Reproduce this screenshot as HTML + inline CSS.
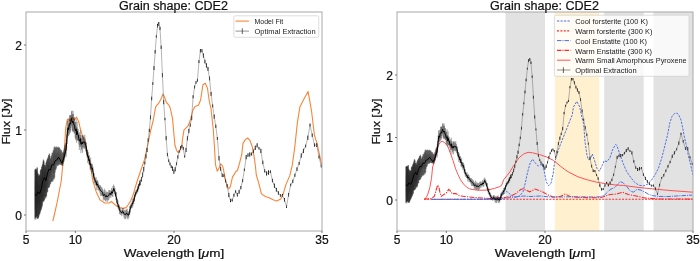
<!DOCTYPE html>
<html><head><meta charset="utf-8"><title>Grain shape: CDE2</title>
<style>html,body{margin:0;padding:0;background:#fff;}body{width:700px;height:261px;overflow:hidden;position:relative;font-family:"Liberation Sans",sans-serif;}</style>
</head><body>
<svg width="700" height="261" viewBox="0 0 700 261" style="position:absolute;left:0;top:0;will-change:transform;filter:blur(0.3px)">
<defs><clipPath id="cl"><rect x="26" y="12" width="296" height="219"/></clipPath><clipPath id="cr"><rect x="397" y="12" width="296" height="219"/></clipPath></defs>
<rect x="505.53" y="12" width="39.47" height="219" fill="#e2e2e2"/>
<rect x="554.87" y="12" width="44.4" height="219" fill="#fff0d0"/>
<rect x="604.2" y="12" width="39.47" height="219" fill="#e2e2e2"/>
<rect x="653.53" y="12" width="39.47" height="219" fill="#e2e2e2"/>
<path d="M52.8 221.2 L55 212 L57.6 200 L59.5 190 L61.4 180 L63 162 L64.5 147.7 L65.7 128 L67.3 119.6 L68.5 118.8 L70.3 121.1 L72.2 117.3 L74.2 120.3 L76.5 117 L78.8 121.9 L80.1 128 L82.4 135.7 L84.7 141.8 L86.3 147.9 L87.8 154.8 L89.3 161.7 L90.9 168 L92.6 179.9 L96.1 191.4 L100 199.9 L104.6 203 L109.2 203 L111.5 201.5 L113.8 203.8 L116.9 206.1 L119.9 207.6 L123 208.4 L126.1 207.6 L128.4 204.5 L130.7 200.7 L133 195.3 L135.2 187.7 L137.5 180 L139.2 175 L141.8 167.5 L144.4 160 L147.6 145.3 L150.7 130.5 L153.3 120 L155.6 107.1 L156.6 105.5 L158.4 103.7 L161 99 L163 94 L164.5 97 L166.4 102.5 L168.7 104.8 L170.2 108 L171 111.7 L172.5 118.4 L174.9 145 L176.7 150.7 L178.4 152.8 L180.1 150.2 L181.8 146.7 L182.4 140 L184 129.9 L186.3 127.6 L188 126 L190.3 120.3 L192.6 111.1 L195 106.5 L198.4 105.3 L200.6 100 L202.9 84.8 L205.2 83.2 L207.5 88.3 L209.1 100 L211 108.8 L213.3 129.5 L214.2 143.3 L215.5 164.7 L217.2 171.1 L218.7 168.9 L220.8 163.7 L222.9 166.8 L225 177.4 L227.1 185.8 L228.6 188.9 L230.3 186.8 L232.4 177.4 L235.5 172.1 L237.6 170 L239.7 162.6 L241.8 154.2 L243 143.4 L245.3 139.6 L247.6 138 L249.9 140.3 L252.2 146.5 L253.8 154.9 L255.3 165 L256.3 175 L258.9 183.6 L261.4 193.9 L265.3 196.5 L269.1 197.8 L273 199.8 L276.8 201.1 L280.7 199 L283.2 193.9 L285.8 184.9 L289.7 175.9 L292.2 165.7 L294.8 147 L297.4 122.4 L299.9 107 L303.8 99.2 L308.1 91.5 L311.5 110.8 L314.5 135.7 L316.8 142.6 L319.1 152.9 L321.4 163.3 L322 165" stroke="#f7853a" stroke-width="1.1" fill="none" stroke-linejoin="round" clip-path="url(#cl)"/>
<path d="M34.88 169.83V219.38M35.19 168.8V217.79M35.49 168.74V217.91M35.8 170.28V219.71M36.12 169.86V216.46M36.43 168.64V217.15M36.74 169.82V217.99M37.06 167.41V215.94M37.38 167.62V218.92M37.7 172.35V218.57M38.02 173.77V217.75M38.34 173.81V218.84M38.66 176.12V217.11M38.99 175.35V216.33M39.32 175.66V214.61M39.65 174.44V214.12M39.98 174.52V213.81M40.31 170.94V212.2M40.65 169.5V210.95M40.99 169.78V209.16M41.32 168.99V209.97M41.66 166.67V207.86M42.01 166.5V205.04M42.35 164.81V206.69M42.7 163.69V201.87M43.04 161.36V202.52M43.39 159.4V201.17M43.74 160.21V201.48M44.1 161.41V200.31" stroke="#000" stroke-opacity="0.58" stroke-width="0.8" fill="none" clip-path="url(#cl)"/>
<path d="M34.88 179.76V210.85M35.19 182.4V206.89M35.49 185.99V203.34M35.8 186.19V204.81M36.12 185.38V203.62M36.43 175.72V212.61M36.74 175.83V213.09M37.06 181.83V204.43M37.38 181.55V205.88M37.7 180.64V208.21M38.02 181.29V206.86M38.34 184.3V203.58M38.66 184.52V204.06M38.99 184.47V203.74M39.32 185.29V202.64M39.65 179.3V208.19M39.98 178.22V208.68M40.31 177.62V205.47M40.65 182.93V197.58M40.99 177.59V200.93M41.32 175.49V202.02M41.66 176.01V198.26M42.01 175.31V196.44M42.35 171.73V198.96M42.7 169.88V196.77M43.04 169.29V195.45M43.39 172.42V189.6M43.74 166.86V194.93M44.1 170.79V190.67M44.45 171.89V190.97M44.81 169.13V192.02M45.17 172.91V189.56M45.53 167.96V192.12M45.89 172.02V187.44M46.25 168.23V188.88M46.62 168.42V187.12M46.99 163.41V189.14M47.36 165.29V185.45M47.73 161.91V187.07M48.11 162.14V183.49M48.48 165.5V178.02M48.86 165.13V177.24M49.24 161.63V178.16M49.62 162.89V176.04M50.01 163.82V174.04M50.39 164.12V174.17M50.78 162.33V175.06M51.17 157.5V177.44M51.56 162.05V171.97M51.96 159.55V172.7M52.35 161.03V170.94M52.75 159.6V170.87M53.15 155.79V173.57M53.55 154.57V172.95M53.96 156.32V169.59M54.36 151.87V173.19M54.77 150.61V172.43M55.18 151.85V169.14M55.6 154.62V164.56M56.01 155.2V163.09M56.43 153.47V163.45M56.85 153.07V162.85M57.27 151.05V164.26M57.7 153.29V161.76M58.12 151.54V163.55M58.55 152.92V162.4M58.98 154.38V160.94M59.42 151.9V163.39M59.85 154.49V161.33M60.29 152.54V163.64M60.73 154.4V162.21M61.17 155.75V161.61M61.62 153.39V164.84M62.06 154.89V164.76M62.51 156.96V163.15M62.97 158.19V162.64M63.42 155.26V162.12M63.88 152.37V161.35M64.34 152.13V157.87M64.8 148.92V156.72M65.26 148.24V153.08M65.73 145.72V151.73" stroke="#000" stroke-opacity="0.12" stroke-width="0.8" fill="none" clip-path="url(#cl)"/>
<path d="M44.45 164.85V200.37M44.81 164.98V197.54M45.17 166.98V198.88" stroke="#000" stroke-opacity="0.57" stroke-width="0.8" fill="none" clip-path="url(#cl)"/>
<path d="M45.53 165.11V196.69M45.89 163.12V198.18" stroke="#000" stroke-opacity="0.56" stroke-width="0.8" fill="none" clip-path="url(#cl)"/>
<path d="M46.25 161.95V196.36M46.62 160.6V196.3M128.8 212.34V217.6M129.6 206.19V214.94M130.4 204.7V212.59" stroke="#000" stroke-opacity="0.55" stroke-width="0.8" fill="none" clip-path="url(#cl)"/>
<path d="M46.99 159.47V193.19M47.36 158.95V191.86" stroke="#000" stroke-opacity="0.54" stroke-width="0.8" fill="none" clip-path="url(#cl)"/>
<path d="M47.73 157.67V191.72M48.11 157.11V187.9" stroke="#000" stroke-opacity="0.53" stroke-width="0.8" fill="none" clip-path="url(#cl)"/>
<path d="M48.48 155.17V187.92M48.86 155.02V188.11" stroke="#000" stroke-opacity="0.52" stroke-width="0.8" fill="none" clip-path="url(#cl)"/>
<path d="M49.24 153.23V187.07M49.62 154.18V186.76" stroke="#000" stroke-opacity="0.51" stroke-width="0.8" fill="none" clip-path="url(#cl)"/>
<path d="M50.01 155.7V185.1M50.39 158.85V183.82M50.78 158.2V183.7M126.42 209.33V216.54M127.21 208.69V218.45M128 211.02V219.42" stroke="#000" stroke-opacity="0.5" stroke-width="0.8" fill="none" clip-path="url(#cl)"/>
<path d="M51.17 156.24V181.78M51.56 155.34V181.83" stroke="#000" stroke-opacity="0.49" stroke-width="0.8" fill="none" clip-path="url(#cl)"/>
<path d="M51.96 152.8V181.72M52.35 153.13V181.75M52.75 152.36V180.41M53.15 150.23V181.28M53.55 150.28V178.65M53.96 147.24V179.54M54.36 147.53V178.65M54.77 146.04V177.23M55.18 147.74V172.54M55.6 147.42V170.14M56.01 146.99V169.6M56.43 146.31V168.39M56.85 147.65V165.89M57.27 147.93V165.23M57.7 146.9V166.25M58.12 146.53V166.03M58.55 147.56V164.78M58.98 147.06V164.61M59.42 147.49V164.24M59.85 148.24V164.69M60.29 148.92V164.9M60.73 149.8V164.93M61.17 150.4V164.62M61.62 150.04V165.49M62.06 151.64V165.6M62.51 152.58V165.13M62.97 152.84V165.85M63.42 151.61V163.6M63.88 149.66V162.01M64.34 147.61V160.42M64.8 145.33V158.35M65.26 143.73V156.02M65.73 142.81V153.92" stroke="#000" stroke-opacity="0.48" stroke-width="0.8" fill="none" clip-path="url(#cl)"/>
<path d="M66.2 139.24V157.09M66.67 134.64V150.83M67.14 126.96V143.98M67.62 120.82V138.06M68.1 119.81V136.2M68.58 123.81V135.75M69.06 119.12V132.78M69.55 115.25V134.54M70.04 115.44V130.67M70.53 115.1V132.66M71.02 114.88V127.86M71.52 111.28V125.72M72.02 110.68V130.46M72.52 114.03V131.52M73.02 110.73V131.62M73.53 113.9V131.64M74.04 116.89V133.5M74.55 117.45V133.34M75.07 121.75V137.77M75.59 122.03V140.06M76.11 118.71V138.92M76.63 126.54V142.94M77.16 121.68V140.6M77.68 128.53V140.57M78.22 129.07V140.56M78.75 133.1V144.5M79.29 132.22V149.99M79.83 134.97V146.9M80.37 130.34V146.58M80.92 135.28V153.17M81.47 138.35V150.21M82.02 135.25V148.39M82.57 135.03V152.78M83.13 136.55V147.26M83.69 135.37V148.65M84.25 137.3V147.82M84.82 134.7V148.97M85.39 138.84V151.54M85.96 141.63V150.18M86.54 142.8V155.41M87.11 149.54V157.99M87.69 149.91V162.99M88.28 151.97V160.3M88.87 156.81V164.59M89.46 155.14V164.27M90.05 159.8V169.73M90.65 157.53V169.74M91.25 163.9V171.85M91.85 163.55V173.87M92.46 164.52V171.85M93.07 166.61V177.24M93.68 172.9V179.88M94.29 173.29V183.23M94.91 176.69V183.46M95.54 178.42V185.08M96.16 177.15V185.9M96.79 180.58V189.86M97.42 179.96V187.71M98.06 181.14V190.29M98.7 183.5V190.39M99.34 184.93V191.5M99.99 185.66V193.65M100.63 185.47V195.88M101.29 186.81V195.81M101.94 187.59V195.76M102.6 188.78V196.44M103.26 190.36V200.62M103.93 191.86V199.19M104.6 188.67V200.02M105.27 190.3V201.02M105.95 192.61V201.58M106.63 191.41V199.83M107.32 192.03V202.04M108 192.12V200.27M108.69 190.28V200.4M109.39 189.91V198.39M110.09 189.92V196.51M110.79 191.39V198.07M111.5 187.89V195.57M112.21 189.86V196.62M112.92 185.95V196.95M113.64 184.5V192.32M114.36 186.13V194.01M115.08 188.29V195.43M115.81 192.5V200.15M116.54 192V203.36M117.28 199.12V206.54M118.02 200.54V208.25M118.76 204.31V210.36M119.51 205.49V213.91M120.26 207.92V214.87M121.02 209.05V214.96M121.78 209.95V216.22M122.54 208.09V214.07M123.31 208.2V215.41M124.08 209.7V218.21M124.86 210.06V219.28M125.64 210.18V219.07" stroke="#000" stroke-opacity="0.45" stroke-width="0.8" fill="none" clip-path="url(#cl)"/>
<path d="M131.21 203.21V208.51M132.03 201.38V207.99" stroke="#000" stroke-opacity="0.6" stroke-width="0.8" fill="none" clip-path="url(#cl)"/>
<path d="M132.84 198.82V206.43M133.67 197.4V203.98M134.49 194.71V201.48" stroke="#000" stroke-opacity="0.65" stroke-width="0.8" fill="none" clip-path="url(#cl)"/>
<path d="M135.32 191.62V196.59M136.16 190.23V194.71M137 189.17V193.41" stroke="#000" stroke-opacity="0.7" stroke-width="0.8" fill="none" clip-path="url(#cl)"/>
<path d="M137.84 185.9V191.47M138.69 183.85V189.43" stroke="#000" stroke-opacity="0.75" stroke-width="0.8" fill="none" clip-path="url(#cl)"/>
<path d="M139.54 180.64V185.6M140.4 179.6V185.27" stroke="#000" stroke-opacity="0.8" stroke-width="0.8" fill="none" clip-path="url(#cl)"/>
<path d="M141.49 177.03V181.61M142.59 172.5V177.25" stroke="#000" stroke-opacity="0.85" stroke-width="1.0" fill="none" clip-path="url(#cl)"/>
<path d="M143.7 167.02V171.69" stroke="#000" stroke-opacity="0.9" stroke-width="1.0" fill="none" clip-path="url(#cl)"/>
<path d="M144.81 161.55V164.41M145.93 154.28V158.51M147.06 147.96V152.12M148.2 138.26V141.79M149.34 128.76V132.17M150.49 115.34V119.29M151.65 96.67V100.36M152.82 82.18V84.86M153.99 66.13V70.03M155.17 49.97V53.51M156.36 35.13V37.63M157.56 23.81V27.56M158.77 22.03V25.79M159.98 26.61V30.04M161.2 45.61V48.94M162.43 73.1V77.3M163.67 99.86V104.23M164.92 117.84V120.25M166.17 136.14V140.19M167.44 152.9V156.2M168.71 159.32V162.13M169.99 162.58V165.39M171.28 165.45V168.12M172.57 166.53V170.85M173.88 169.69V173.74M175.19 167.13V171.32M176.52 162.32V165.17M177.85 155.3V158.67M179.19 150.24V152.63M180.54 146.23V149.53M181.9 144.98V147.65M183.27 146.93V149.96M184.65 155.18V157.56M186.03 147.93V152.02M187.43 136.16V140.43M188.83 128.92V133.13M190.25 123.51V126.65M191.67 115.74V120.15M193.11 95.24V98.36M194.55 85.58V88.52M196 81.18V83.77M197.46 78.68V81.64M198.94 60.21V63.1M200.42 49.1V52.52M201.91 49.1V52.25M203.41 53.47V57.66M204.92 59.73V63.39M206.44 63.29V67.59M207.98 67V70.85M209.52 76.55V80.42M211.07 91.96V95.87M212.63 104.35V107.31M214.21 114.54V118.81M215.79 124.57V127.91M217.38 137.02V140M218.99 156.06V160.43M220.6 167V170.72M222.23 173.53V177.05M223.87 174.25V176.97M225.52 179.6V182.4M227.17 184.2V187.6M228.84 192.86V197.09M230.53 198.85V202.15M232.22 198.74V201.51M233.92 193.73V196.81M235.64 190.32V193.19M237.36 192.97V196.51M239.1 189.86V193.76M240.85 186.03V189.25M242.61 179.17V182.32M244.38 168.49V171M246.17 154.96V159.31M247.97 153.39V156.8M249.77 152.42V156.56M251.6 152.52V155.46M253.43 149.58V152.78M255.27 145.6V149.92M257.13 143.29V147.45M259 147.11V149.56M260.88 148.79V153M262.78 160.58V164.16M264.68 169.23V172.41M266.6 171.46V175.52M268.54 170.35V174.71M270.48 170.44V173.04M272.44 178.83V182.28M274.41 183.58V187.88M276.4 187.94V191.64M278.4 191.34V194.66M280.41 194.24V196.7M282.43 193.92V196.77M284.47 197.97V201.67M286.52 205.26V207.9M288.59 192.97V196.65M290.67 183.69V186.29M292.76 179.69V183.14M294.87 173.71V176.88M296.99 167.35V170.95M299.13 161.87V164.86M301.28 153.37V157.7M303.44 148.78V152.96M305.62 144.63V147.48M307.81 135.61V139.95M310.02 123.52V126.53M312.24 133.58V136.98M314.48 143.34V146.58M316.73 143.27V147.01M319 155.64V158.49M321.28 164.47V167.54" stroke="#000" stroke-opacity="0.95" stroke-width="1.0" fill="none" clip-path="url(#cl)"/>
<path d="M34.88 194.43 L36.43 195.69 L38.02 191.6 L39.65 193.83 L41.32 188.78 L43.04 180.2 L44.45 177.33 L45.89 180.83 L47.36 173.89 L48.86 169.21 L50.39 169.93 L51.96 164.81 L53.55 165.07 L55.18 160.71 L56.85 159.98 L58.55 157.05 L60.29 160.08 L62.06 163.24 L63.88 158.02 L65.73 150.53 L66.2 148.16 L66.67 142.74 L67.14 135.47 L67.62 129.44 L68.1 128 L68.58 129.78 L69.06 125.95 L69.55 124.9 L70.04 123.05 L70.53 123.88 L71.02 121.37 L71.52 118.5 L72.02 120.57 L72.52 122.77 L73.02 121.17 L73.53 122.77 L74.04 125.2 L74.55 125.39 L75.07 129.76 L75.59 131.04 L76.11 128.82 L76.63 134.74 L77.16 131.14 L77.68 134.55 L78.22 134.81 L78.75 138.8 L79.29 141.11 L79.83 140.94 L80.37 138.46 L80.92 144.23 L81.47 144.28 L82.02 141.82 L82.57 143.91 L83.13 141.91 L83.69 142.01 L84.25 142.56 L84.82 141.84 L85.39 145.19 L85.96 145.9 L86.54 149.11 L87.11 153.77 L87.69 156.45 L88.28 156.13 L88.87 160.7 L89.46 159.7 L90.05 164.77 L90.65 163.63 L91.25 167.87 L91.85 168.71 L92.46 168.18 L93.07 171.93 L93.68 176.39 L94.29 178.26 L94.91 180.08 L95.54 181.75 L96.16 181.52 L96.79 185.22 L97.42 183.83 L98.06 185.72 L98.7 186.94 L99.34 188.22 L99.99 189.66 L100.63 190.67 L101.29 191.31 L101.94 191.67 L102.6 192.61 L103.26 195.49 L103.93 195.52 L104.6 194.34 L105.27 195.66 L105.95 197.1 L106.63 195.62 L107.32 197.03 L108 196.2 L108.69 195.34 L109.39 194.15 L110.09 193.21 L110.79 194.73 L111.5 191.73 L112.21 193.24 L112.92 191.45 L113.64 188.41 L114.36 190.07 L115.08 191.86 L115.81 196.32 L116.54 197.68 L117.28 202.83 L118.02 204.4 L118.76 207.34 L119.51 209.7 L120.26 211.4 L121.02 212 L121.78 213.09 L122.54 211.08 L123.31 211.8 L124.08 213.95 L124.86 214.67 L125.64 214.63 L126.42 212.93 L127.21 213.57 L128 215.22 L128.8 214.97 L129.6 210.57 L130.4 208.64 L131.21 205.86 L132.03 204.69 L132.84 202.62 L133.67 200.69 L134.49 198.09 L135.32 194.1 L136.16 192.47 L137 191.29 L137.84 188.69 L138.69 186.64 L139.54 183.12" stroke="#000" stroke-width="1.0" fill="none" stroke-linejoin="round" clip-path="url(#cl)"/>
<path d="M139.54 183.12 L140.4 182.43 L141.49 179.32 L142.59 174.88 L143.7 169.36 L144.81 162.98 L145.93 156.4 L147.06 150.04 L148.2 140.03 L149.34 130.46 L150.49 117.31 L151.65 98.51 L152.82 83.52 L153.99 68.08 L155.17 51.74 L156.36 36.38 L157.56 25.69 L158.77 23.91 L159.98 28.32 L161.2 47.27 L162.43 75.2 L163.67 102.05 L164.92 119.04 L166.17 138.16 L167.44 154.55 L168.71 160.73 L169.99 163.99 L171.28 166.79 L172.57 168.69 L173.88 171.71 L175.19 169.22 L176.52 163.75 L177.85 156.99 L179.19 151.43 L180.54 147.88 L181.9 146.32 L183.27 148.45 L184.65 156.37 L186.03 149.97 L187.43 138.29 L188.83 131.02 L190.25 125.08 L191.67 117.95 L193.11 96.8 L194.55 87.05 L196 82.48 L197.46 80.16 L198.94 61.66 L200.42 50.81 L201.91 50.68 L203.41 55.56 L204.92 61.56 L206.44 65.44 L207.98 68.93 L209.52 78.49 L211.07 93.91 L212.63 105.83 L214.21 116.68 L215.79 126.24 L217.38 138.51 L218.99 158.24 L220.6 168.86 L222.23 175.29 L223.87 175.61 L225.52 181 L227.17 185.9 L228.84 194.98 L230.53 200.5 L232.22 200.13 L233.92 195.27 L235.64 191.75 L237.36 194.74 L239.1 191.81 L240.85 187.64 L242.61 180.74 L244.38 169.75 L246.17 157.13 L247.97 155.1 L249.77 154.49 L251.6 153.99 L253.43 151.18 L255.27 147.76 L257.13 145.37 L259 148.33 L260.88 150.89 L262.78 162.37 L264.68 170.82 L266.6 173.49 L268.54 172.53 L270.48 171.74 L272.44 180.56 L274.41 185.73 L276.4 189.79 L278.4 193 L280.41 195.47 L282.43 195.35 L284.47 199.82 L286.52 206.58 L288.59 194.81 L290.67 184.99 L292.76 181.41 L294.87 175.29 L296.99 169.15 L299.13 163.36 L301.28 155.54 L303.44 150.87 L305.62 146.06 L307.81 137.78 L310.02 125.02 L312.24 135.28 L314.48 144.96 L316.73 145.14 L319 157.06 L321.28 166" stroke="#777" stroke-width="0.55" fill="none" stroke-linejoin="round" clip-path="url(#cl)"/>
<path d="M424 199.2 L693 199.2" stroke="#ff2a2a" stroke-width="1.1" stroke-dasharray="2 1.3" fill="none" clip-path="url(#cr)"/>
<path d="M424 199.1 L431.5 198.6 L434.4 196.3 L436.1 190 L437.8 185.1 L439 187.6 L440.1 193.4 L441.3 196.3 L443 195.1 L444.7 194 L446.4 192.8 L448.7 189.4 L450.5 191.1 L452.2 194 L454.5 193.4 L456.8 194 L459.1 195.7 L465 196.5 L475 197.5 L490 198.5 L505 197.5 L509.9 196.4 L516.1 193.4 L520.7 189.5 L523 188.8 L526 190.3 L529.8 191.8 L534.9 189.1 L541.8 191.4 L547.5 194.8 L553.3 197.1 L560.2 196.5 L565.3 194.1 L570 196.5 L580 197.5 L600 197.8 L610 194.5 L616.9 194 L622.6 192.2 L628.4 194.5 L635.3 195.8 L645 198 L660 199 L693 199.1" stroke="#ff2a2a" stroke-width="1.1" stroke-dasharray="5 1.2 1.2 1.2" fill="none" clip-path="url(#cr)"/>
<path d="M431.5 199.4 L500 199.2 L514.2 197.1 L523.4 196 L530 196.5 L540 196 L550 197 L560 197 L570 196.8 L580 196.8 L595 197 L600 196.8 L604.4 195.2 L610.2 189.5 L614.6 187.6 L618 184.1 L620 181.6 L622.9 182.6 L626.7 186.4 L630.5 191.2 L633.4 192.1 L637.2 189.3 L641.1 190.2 L644.9 192.1 L648.7 194.4 L652.6 195.6 L658.3 196.4 L668 196.5 L692 195.1" stroke="#4b70e2" stroke-width="1.0" stroke-dasharray="4.5 1 1 1" fill="none" clip-path="url(#cr)"/>
<path d="M431.5 199.4 L470 199.4 L490 199.2 L497 198.6 L500 198 L503 194.1 L506.9 191.4 L509.9 194.1 L513 196.4 L516.1 197.2 L519.9 195.7 L523 191.8 L525.2 183.4 L526.8 175.7 L528.3 169.6 L530.3 162.6 L532.6 159.2 L536 163.8 L538.3 166.1 L541.8 163.8 L544.1 170.7 L546.4 182.2 L548.7 185.6 L551 183.3 L553.3 173 L554.4 163.8 L556.1 157.5 L558.5 149.5 L563 138 L567.6 126.5 L572.2 115 L573.4 107.1 L576.8 101.4 L579.8 107.1 L581.4 115 L583.7 124.2 L585 141.5 L586.9 154.9 L588.4 159.7 L590.4 158.7 L592.3 154 L594.6 160.7 L596.9 168.3 L599.4 171.2 L602.2 165.4 L604.2 160.7 L607 161.6 L609.9 157.8 L612.8 149.2 L615.7 144.4 L617.1 146 L620.2 155.5 L623.3 163.8 L626.4 171.1 L630.6 177.3 L634.7 182.4 L638.8 185.1 L643 186 L647.1 184.5 L651.3 180.4 L655.4 174.2 L658.5 168 L661.6 158.6 L663.7 150.4 L665.8 142.1 L667.6 134.6 L669.9 122.5 L672 116.5 L674.5 113.5 L677 113 L679 115.5 L681 120 L682.5 127 L684.1 135.5 L686 143.8 L688.3 155.3 L690.6 164.5 L692.4 172.5 L693 175" stroke="#4b70e2" stroke-width="1.0" stroke-dasharray="2.3 1.2" fill="none" clip-path="url(#cr)"/>
<path d="M424.4 199.1 L426 197.8 L427.5 195.1 L429.8 187.6 L431.5 178.4 L432.6 167 L434.9 160 L435 156.6 L437.5 147 L440 142.5 L442.1 141.2 L444.5 142.5 L447.9 146.5 L450.7 154 L453 160.5 L455.6 168.8 L458 174.5 L460.5 179.8 L463.5 184 L466.6 187.1 L469.5 188.8 L472.8 189.6 L478 190.2 L485 190.2 L490 189.5 L494.6 188.3 L499.2 186.8 L501.5 185.5 L503.8 179.6 L506.9 175.7 L509.9 171.9 L513 166.5 L514.5 164.5 L518.8 158 L523.4 154.1 L528 152.3 L532.6 152.8 L539.5 154.6 L546.4 156.9 L553.3 160.3 L560.2 166 L564.8 169.5 L568.8 172.2 L578 176.8 L587.2 179.8 L596.4 182.1 L605.6 183.7 L614.8 184.9 L623.8 185.5 L639.9 187.6 L656 189.2 L670 190.5 L693 192.2" stroke="#ff5252" stroke-width="1.0" fill="none" clip-path="url(#cr)"/>
<path d="M405.88 166.79V203.22M406.19 166.03V202.05M406.49 165.98V202.14M406.8 167.12V203.46M407.12 166.81V201.07M407.43 165.92V201.58M407.74 166.78V202.2M408.06 165.01V200.69M408.38 165.16V202.88M408.7 168.64V202.63M409.02 169.68V202.02M409.34 169.71V202.83M409.66 171.41V201.55M409.99 170.85V200.98M410.32 171.08V199.72M410.65 170.18V199.35M410.98 170.24V199.13M411.31 167.61V197.94M411.65 166.55V197.02M411.99 166.75V195.71M412.32 166.17V196.3M412.66 164.46V194.75M413.01 164.34V192.68M413.35 163.1V193.89M413.7 162.27V190.34M414.04 160.56V190.82M414.39 159.12V189.83M414.74 159.71V190.06M415.1 160.59V189.19" stroke="#000" stroke-opacity="0.58" stroke-width="0.8" fill="none" clip-path="url(#cr)"/>
<path d="M405.88 174.09V196.95M406.19 176.03V194.04M406.49 178.67V191.42M406.8 178.82V192.5M407.12 178.22V191.64M407.43 171.12V198.24M407.74 171.2V198.59M408.06 175.61V192.23M408.38 175.41V193.3M408.7 174.73V195.01M409.02 175.21V194.01M409.34 177.42V191.6M409.66 177.59V191.95M409.99 177.55V191.72M410.32 178.16V190.91M410.65 173.75V194.99M410.98 172.96V195.35M411.31 172.51V193M411.65 176.42V187.19M411.99 172.49V189.66M412.32 170.95V190.46M412.66 171.33V187.69M413.01 170.82V186.36M413.35 168.18V188.2M413.7 166.82V186.59M414.04 166.39V185.63M414.39 168.69V181.32M414.74 164.61V185.25M415.1 167.49V182.11M415.45 168.3V182.33M415.81 166.27V183.1M416.17 169.05V181.29M416.53 165.41V183.17M416.89 168.4V179.73M417.25 165.61V180.79M417.62 165.75V179.5M417.99 162.06V180.98M418.36 163.45V178.27M418.73 160.96V179.46M419.11 161.13V176.83M419.48 163.6V172.81M419.86 163.33V172.24M420.24 160.76V172.91M420.62 161.68V171.35M421.01 162.37V169.88M421.39 162.59V169.98M421.78 161.27V170.63M422.17 157.72V172.39M422.56 161.06V168.36M422.96 159.23V168.89M423.35 160.32V167.6M423.75 159.27V167.55M424.15 156.46V169.53M424.55 155.57V169.08M424.96 156.85V166.61M425.36 153.58V169.26M425.77 152.66V168.7M426.18 153.57V166.28M426.6 155.6V162.91M427.01 156.03V161.83M427.43 154.76V162.1M427.85 154.46V161.66M428.27 152.98V162.69M428.7 154.63V160.85M429.12 153.34V162.17M429.55 154.35V161.32M429.98 155.43V160.25M430.42 153.6V162.05M430.85 155.5V160.53M431.29 154.07V162.24M431.73 155.44V161.18M432.17 156.43V160.74M432.62 154.7V163.12M433.06 155.8V163.06M433.51 157.33V161.87M433.97 158.23V161.5M434.42 156.07V161.11M434.88 153.95V160.55M435.34 153.77V158M435.8 151.41V157.15M436.26 150.91V154.47M436.73 149.06V153.48" stroke="#000" stroke-opacity="0.12" stroke-width="0.8" fill="none" clip-path="url(#cr)"/>
<path d="M415.45 163.13V189.25M415.81 163.22V187.16M416.17 164.69V188.14" stroke="#000" stroke-opacity="0.57" stroke-width="0.8" fill="none" clip-path="url(#cr)"/>
<path d="M416.53 163.32V186.54M416.89 161.86V187.63" stroke="#000" stroke-opacity="0.56" stroke-width="0.8" fill="none" clip-path="url(#cr)"/>
<path d="M417.25 160.99V186.3M417.62 160V186.25M499.8 198.05V201.91M500.6 193.53V199.96M501.4 192.42V198.22" stroke="#000" stroke-opacity="0.55" stroke-width="0.8" fill="none" clip-path="url(#cr)"/>
<path d="M417.99 159.17V183.96M418.36 158.79V182.99" stroke="#000" stroke-opacity="0.54" stroke-width="0.8" fill="none" clip-path="url(#cr)"/>
<path d="M418.73 157.84V182.88M419.11 157.43V180.07" stroke="#000" stroke-opacity="0.53" stroke-width="0.8" fill="none" clip-path="url(#cr)"/>
<path d="M419.48 156.01V180.09M419.86 155.9V180.23" stroke="#000" stroke-opacity="0.52" stroke-width="0.8" fill="none" clip-path="url(#cr)"/>
<path d="M420.24 154.58V179.46M420.62 155.28V179.23" stroke="#000" stroke-opacity="0.51" stroke-width="0.8" fill="none" clip-path="url(#cr)"/>
<path d="M421.01 156.4V178.02M421.39 158.71V177.08M421.78 158.23V176.98M497.42 195.83V201.13M498.21 195.36V202.53M499 197.08V203.25" stroke="#000" stroke-opacity="0.5" stroke-width="0.8" fill="none" clip-path="url(#cr)"/>
<path d="M422.17 156.79V175.57M422.56 156.13V175.61" stroke="#000" stroke-opacity="0.49" stroke-width="0.8" fill="none" clip-path="url(#cr)"/>
<path d="M422.96 154.27V175.53M423.35 154.51V175.55M423.75 153.94V174.56M424.15 152.37V175.21M424.55 152.41V173.27M424.96 150.18V173.93M425.36 150.39V173.28M425.77 149.29V172.23M426.18 150.54V168.78M426.6 150.31V167.01M427.01 150V166.62M427.43 149.49V165.73M427.85 150.48V163.89M428.27 150.68V163.4M428.7 149.92V164.15M429.12 149.65V164M429.55 150.41V163.07M429.98 150.05V162.95M430.42 150.36V162.67M430.85 150.91V163M431.29 151.41V163.16M431.73 152.06V163.19M432.17 152.5V162.96M432.62 152.24V163.59M433.06 153.41V163.68M433.51 154.1V163.33M433.97 154.3V163.86M434.42 153.39V162.21M434.88 151.95V161.04M435.34 150.45V159.87M435.8 148.77V158.35M436.26 147.6V156.63M436.73 146.92V155.09" stroke="#000" stroke-opacity="0.48" stroke-width="0.8" fill="none" clip-path="url(#cr)"/>
<path d="M437.2 144.29V157.42M437.67 140.91V152.82M438.14 135.26V147.78M438.62 130.75V143.43M439.1 130.01V142.06M439.58 132.95V141.73M440.06 129.5V139.54M440.55 126.65V140.84M441.04 126.8V137.99M441.53 126.54V139.46M442.02 126.38V135.93M442.52 123.74V134.35M443.02 123.3V137.83M443.52 125.75V138.62M444.02 123.33V138.69M444.53 125.66V138.71M445.04 127.86V140.08M445.55 128.27V139.96M446.07 131.43V143.21M446.59 131.64V144.9M447.11 129.2V144.06M447.63 134.95V147.02M448.16 131.38V145.29M448.68 136.42V145.27M449.22 136.82V145.26M449.75 139.78V148.16M450.29 139.14V152.2M450.83 141.16V149.93M451.37 137.75V149.69M451.92 141.39V154.53M452.47 143.64V152.36M453.02 141.36V151.02M453.57 141.2V154.25M454.13 142.32V150.19M454.69 141.45V151.21M455.25 142.87V150.6M455.82 140.96V151.45M456.39 144V153.34M456.96 146.05V152.34M457.54 146.91V156.18M458.11 151.87V158.08M458.69 152.14V161.76M459.28 153.65V159.78M459.87 157.21V162.93M460.46 155.99V162.7M461.05 159.41V166.71M461.65 157.74V166.72M462.25 162.42V168.27M462.85 162.17V169.76M463.46 162.88V168.27M464.07 164.42V172.24M464.68 169.05V174.17M465.29 169.33V176.64M465.91 171.83V176.81M466.54 173.1V178M467.16 172.17V178.6M467.79 174.69V181.52M468.42 174.23V179.93M469.06 175.11V181.83M469.7 176.83V181.9M470.34 177.89V182.72M470.99 178.43V184.3M471.63 178.29V185.94M472.29 179.27V185.89M472.94 179.84V185.85M473.6 180.72V186.35M474.26 181.88V189.43M474.93 182.99V188.37M475.6 180.64V188.98M476.27 181.84V189.72M476.95 183.54V190.13M477.63 182.65V188.85M478.32 183.11V190.47M479 183.18V189.17M479.69 181.82V189.26M480.39 181.55V187.79M481.09 181.56V186.4M481.79 182.64V187.55M482.5 180.06V185.71M483.21 181.52V186.49M483.92 178.64V186.73M484.64 177.57V183.33M485.36 178.77V184.57M486.08 180.36V185.61M486.81 183.46V189.08M487.54 183.09V191.44M488.28 188.32V193.78M489.02 189.37V195.04M489.76 192.14V196.59M490.51 193.01V199.2M491.26 194.79V199.91M492.02 195.63V199.97M492.78 196.29V200.9M493.54 194.92V199.32M494.31 195V200.3M495.08 196.1V202.36M495.86 196.37V203.15M496.64 196.46V203" stroke="#000" stroke-opacity="0.45" stroke-width="0.8" fill="none" clip-path="url(#cr)"/>
<path d="M502.21 191.33V195.23M503.03 189.99V194.85" stroke="#000" stroke-opacity="0.6" stroke-width="0.8" fill="none" clip-path="url(#cr)"/>
<path d="M503.84 188.1V193.7M504.67 187.06V191.9M505.49 185.08V190.06" stroke="#000" stroke-opacity="0.65" stroke-width="0.8" fill="none" clip-path="url(#cr)"/>
<path d="M506.32 182.81V186.46M507.16 181.79V185.08M508 181.01V184.13" stroke="#000" stroke-opacity="0.7" stroke-width="0.8" fill="none" clip-path="url(#cr)"/>
<path d="M508.84 178.61V182.7M509.69 177.1V181.2" stroke="#000" stroke-opacity="0.75" stroke-width="0.8" fill="none" clip-path="url(#cr)"/>
<path d="M510.54 174.73V178.39M511.4 173.97V178.14" stroke="#000" stroke-opacity="0.8" stroke-width="0.8" fill="none" clip-path="url(#cr)"/>
<path d="M512.49 172.08V175.45M513.59 168.75V172.24" stroke="#000" stroke-opacity="0.85" stroke-width="1.0" fill="none" clip-path="url(#cr)"/>
<path d="M514.7 164.72V168.15" stroke="#000" stroke-opacity="0.9" stroke-width="1.0" fill="none" clip-path="url(#cr)"/>
<path d="M515.81 160.7V162.8M516.93 155.35V158.47M518.06 150.7V153.76M519.2 143.57V146.17M520.34 136.59V139.09M521.49 126.72V129.62M522.65 112.99V115.71M523.82 102.34V104.31M524.99 90.54V93.4M526.17 78.65V81.25M527.36 67.74V69.58M528.56 59.42V62.18M529.77 58.11V60.88M530.98 61.48V64M532.2 75.45V77.89M533.43 95.66V98.75M534.67 115.34V118.55M535.92 128.56V130.33M537.17 142.01V144.99M538.44 154.34V156.77M539.71 159.06V161.13M540.99 161.46V163.52M542.28 163.57V165.53M543.57 164.36V167.54M544.88 166.68V169.66M546.19 164.8V167.88M547.52 161.26V163.36M548.85 156.1V158.58M550.19 152.38V154.14M551.54 149.43V151.86M552.9 148.52V150.48M554.27 149.95V152.18M555.65 156.01V157.77M557.03 150.68V153.69M558.43 142.03V145.17M559.83 136.7V139.8M561.25 132.73V135.03M562.67 127.01V130.26M564.11 111.94V114.23M565.55 104.84V107M567 101.61V103.51M568.46 99.76V101.94M569.94 86.18V88.31M571.42 78.01V80.53M572.91 78.02V80.33M574.41 81.23V84.31M575.92 85.83V88.53M577.44 88.45V91.61M578.98 91.18V94.01M580.52 98.2V101.05M582.07 109.53V112.41M583.63 118.64V120.82M585.21 126.13V129.27M586.79 133.51V135.97M588.38 142.66V144.86M589.99 156.66V159.87M591.6 164.71V167.44M593.23 169.51V172.1M594.87 170.03V172.04M596.52 173.97V176.03M598.17 177.35V179.85M599.84 183.72V186.83M601.53 188.13V190.55M603.22 188.05V190.08M604.92 184.36V186.62M606.64 181.85V183.96M608.36 183.8V186.4M610.1 181.51V184.39M611.85 178.7V181.07M613.61 173.65V175.97M615.38 165.8V167.65M617.17 155.85V159.05M618.97 154.7V157.2M620.77 153.98V157.03M622.6 154.06V156.22M624.43 151.9V154.25M626.27 148.97V152.15M628.13 147.27V150.33M630 150.08V151.88M631.88 151.31V154.41M633.78 159.98V162.62M635.68 166.35V168.69M637.6 167.98V170.97M639.54 167.17V170.37M641.48 167.23V169.15M643.44 173.41V175.94M645.41 176.9V180.06M647.4 180.11V182.83M649.4 182.61V185.04M651.41 184.74V186.55M653.43 184.5V186.6M655.47 187.48V190.2M657.52 192.84V194.78M659.59 183.8V186.51M661.67 176.97V178.89M663.76 174.03V176.57M665.87 169.64V171.97M667.99 164.96V167.61M670.13 160.93V163.13M672.28 154.68V157.87M674.44 151.31V154.38M676.62 148.25V150.36M678.81 141.63V144.82M681.02 132.74V134.95M683.24 140.14V142.63M685.48 147.31V149.69M687.73 147.26V150.01M690 156.35V158.44M692.28 162.84V165.1" stroke="#000" stroke-opacity="0.95" stroke-width="1.0" fill="none" clip-path="url(#cr)"/>
<path d="M405.88 184.87 L407.43 185.8 L409.02 182.8 L410.65 184.44 L412.32 180.72 L414.04 174.41 L415.45 172.3 L416.89 174.88 L418.36 169.77 L419.86 166.33 L421.39 166.86 L422.96 163.09 L424.55 163.29 L426.18 160.08 L427.85 159.55 L429.55 157.39 L431.29 159.62 L433.06 161.94 L434.88 158.1 L436.73 152.6 L437.2 150.85 L437.67 146.87 L438.14 141.52 L438.62 137.09 L439.1 136.03 L439.58 137.34 L440.06 134.52 L440.55 133.75 L441.04 132.39 L441.53 133 L442.02 131.15 L442.52 129.04 L443.02 130.57 L443.52 132.19 L444.02 131.01 L444.53 132.19 L445.04 133.97 L445.55 134.11 L446.07 137.32 L446.59 138.27 L447.11 136.63 L447.63 140.99 L448.16 138.34 L448.68 140.85 L449.22 141.04 L449.75 143.97 L450.29 145.67 L450.83 145.54 L451.37 143.72 L451.92 147.96 L452.47 148 L453.02 146.19 L453.57 147.72 L454.13 146.26 L454.69 146.33 L455.25 146.73 L455.82 146.2 L456.39 148.67 L456.96 149.19 L457.54 151.55 L458.11 154.98 L458.69 156.95 L459.28 156.72 L459.87 160.07 L460.46 159.34 L461.05 163.06 L461.65 162.23 L462.25 165.35 L462.85 165.97 L463.46 165.58 L464.07 168.33 L464.68 171.61 L465.29 172.99 L465.91 174.32 L466.54 175.55 L467.16 175.39 L467.79 178.1 L468.42 177.08 L469.06 178.47 L469.7 179.37 L470.34 180.31 L470.99 181.37 L471.63 182.11 L472.29 182.58 L472.94 182.85 L473.6 183.54 L474.26 185.65 L474.93 185.68 L475.6 184.81 L476.27 185.78 L476.95 186.83 L477.63 185.75 L478.32 186.79 L479 186.17 L479.69 185.54 L480.39 184.67 L481.09 183.98 L481.79 185.09 L482.5 182.89 L483.21 184 L483.92 182.68 L484.64 180.45 L485.36 181.67 L486.08 182.99 L486.81 186.27 L487.54 187.26 L488.28 191.05 L489.02 192.2 L489.76 194.36 L490.51 196.1 L491.26 197.35 L492.02 197.8 L492.78 198.59 L493.54 197.12 L494.31 197.65 L495.08 199.23 L495.86 199.76 L496.64 199.73 L497.42 198.48 L498.21 198.95 L499 200.16 L499.8 199.98 L500.6 196.74 L501.4 195.32 L502.21 193.28 L503.03 192.42 L503.84 190.9 L504.67 189.48 L505.49 187.57 L506.32 184.63 L507.16 183.43 L508 182.57 L508.84 180.65 L509.69 179.15 L510.54 176.56" stroke="#000" stroke-width="1.0" fill="none" stroke-linejoin="round" clip-path="url(#cr)"/>
<path d="M510.54 176.56 L511.4 176.05 L512.49 173.76 L513.59 170.5 L514.7 166.44 L515.81 161.75 L516.93 156.91 L518.06 152.23 L519.2 144.87 L520.34 137.84 L521.49 128.17 L522.65 114.35 L523.82 103.32 L524.99 91.97 L526.17 79.95 L527.36 68.66 L528.56 60.8 L529.77 59.49 L530.98 62.74 L532.2 76.67 L533.43 97.2 L534.67 116.95 L535.92 129.44 L537.17 143.5 L538.44 155.55 L539.71 160.09 L540.99 162.49 L542.28 164.55 L543.57 165.95 L544.88 168.17 L546.19 166.34 L547.52 162.31 L548.85 157.34 L550.19 153.26 L551.54 150.64 L552.9 149.5 L554.27 151.06 L555.65 156.89 L557.03 152.19 L558.43 143.6 L559.83 138.25 L561.25 133.88 L562.67 128.64 L564.11 113.09 L565.55 105.92 L567 102.56 L568.46 100.85 L569.94 87.25 L571.42 79.27 L572.91 79.17 L574.41 82.77 L575.92 87.18 L577.44 90.03 L578.98 92.59 L580.52 99.62 L582.07 110.97 L583.63 119.73 L585.21 127.7 L586.79 134.74 L588.38 143.76 L589.99 158.27 L591.6 166.08 L593.23 170.8 L594.87 171.04 L596.52 175 L598.17 178.6 L599.84 185.28 L601.53 189.34 L603.22 189.07 L604.92 185.49 L606.64 182.91 L608.36 185.1 L610.1 182.95 L611.85 179.88 L613.61 174.81 L615.38 166.72 L617.17 157.45 L618.97 155.95 L620.77 155.51 L622.6 155.14 L624.43 153.07 L626.27 150.56 L628.13 148.8 L630 150.98 L631.88 152.86 L633.78 161.3 L635.68 167.52 L637.6 169.48 L639.54 168.77 L641.48 168.19 L643.44 174.67 L645.41 178.48 L647.4 181.47 L649.4 183.82 L651.41 185.64 L653.43 185.55 L655.47 188.84 L657.52 193.81 L659.59 185.16 L661.67 177.93 L663.76 175.3 L665.87 170.8 L667.99 166.29 L670.13 162.03 L672.28 156.28 L674.44 152.84 L676.62 149.31 L678.81 143.22 L681.02 133.84 L683.24 141.38 L685.48 148.5 L687.73 148.63 L690 157.4 L692.28 163.97" stroke="#777" stroke-width="0.55" fill="none" stroke-linejoin="round" clip-path="url(#cr)"/>
<rect x="26" y="12" width="296" height="219" fill="none" stroke="#a8a8a8" stroke-width="1"/>
<line x1="26" y1="231" x2="26" y2="233" stroke="#555" stroke-width="0.8"/>
<line x1="75.33" y1="231" x2="75.33" y2="233" stroke="#555" stroke-width="0.8"/>
<line x1="174" y1="231" x2="174" y2="233" stroke="#555" stroke-width="0.8"/>
<line x1="322" y1="231" x2="322" y2="233" stroke="#555" stroke-width="0.8"/>
<line x1="24" y1="215" x2="26" y2="215" stroke="#555" stroke-width="0.8"/>
<line x1="24" y1="130" x2="26" y2="130" stroke="#555" stroke-width="0.8"/>
<line x1="24" y1="45" x2="26" y2="45" stroke="#555" stroke-width="0.8"/>
<rect x="397" y="12" width="296" height="219" fill="none" stroke="#a8a8a8" stroke-width="1"/>
<line x1="397" y1="231" x2="397" y2="233" stroke="#555" stroke-width="0.8"/>
<line x1="446.33" y1="231" x2="446.33" y2="233" stroke="#555" stroke-width="0.8"/>
<line x1="545" y1="231" x2="545" y2="233" stroke="#555" stroke-width="0.8"/>
<line x1="693" y1="231" x2="693" y2="233" stroke="#555" stroke-width="0.8"/>
<line x1="395" y1="200" x2="397" y2="200" stroke="#555" stroke-width="0.8"/>
<line x1="395" y1="137.5" x2="397" y2="137.5" stroke="#555" stroke-width="0.8"/>
<line x1="395" y1="75" x2="397" y2="75" stroke="#555" stroke-width="0.8"/>
<text x="173.5" y="10" font-size="12.5" text-anchor="middle" textLength="109" lengthAdjust="spacingAndGlyphs" font-family="Liberation Sans, sans-serif" fill="#111" stroke="#111" stroke-width="0.22" >Grain shape: CDE2</text>
<text x="26" y="243.9" font-size="12" text-anchor="middle" font-family="Liberation Sans, sans-serif" fill="#111" stroke="#111" stroke-width="0.22" >5</text>
<text x="75.33" y="243.9" font-size="12" text-anchor="middle" font-family="Liberation Sans, sans-serif" fill="#111" stroke="#111" stroke-width="0.22" >10</text>
<text x="174" y="243.9" font-size="12" text-anchor="middle" font-family="Liberation Sans, sans-serif" fill="#111" stroke="#111" stroke-width="0.22" >20</text>
<text x="322" y="243.9" font-size="12" text-anchor="middle" font-family="Liberation Sans, sans-serif" fill="#111" stroke="#111" stroke-width="0.22" >35</text>
<text x="22" y="219.6" font-size="12" text-anchor="end" font-family="Liberation Sans, sans-serif" fill="#111" stroke="#111" stroke-width="0.22" >0</text>
<text x="22" y="134.6" font-size="12" text-anchor="end" font-family="Liberation Sans, sans-serif" fill="#111" stroke="#111" stroke-width="0.22" >1</text>
<text x="22" y="49.6" font-size="12" text-anchor="end" font-family="Liberation Sans, sans-serif" fill="#111" stroke="#111" stroke-width="0.22" >2</text>
<text x="174" y="257" font-size="11.5" text-anchor="middle" textLength="100.3" lengthAdjust="spacingAndGlyphs" font-family="Liberation Sans, sans-serif" fill="#111" stroke="#111" stroke-width="0.22">Wavelength [<tspan font-style="italic">μ</tspan>m]</text>
<text x="0" y="0" font-size="11" text-anchor="middle" textLength="46" lengthAdjust="spacingAndGlyphs" transform="translate(9.5 121.5) rotate(-90)" font-family="Liberation Sans, sans-serif" fill="#111" stroke="#111" stroke-width="0.22">Flux [Jy]</text>
<text x="544.5" y="10" font-size="12.5" text-anchor="middle" textLength="109" lengthAdjust="spacingAndGlyphs" font-family="Liberation Sans, sans-serif" fill="#111" stroke="#111" stroke-width="0.22" >Grain shape: CDE2</text>
<text x="397" y="243.9" font-size="12" text-anchor="middle" font-family="Liberation Sans, sans-serif" fill="#111" stroke="#111" stroke-width="0.22" >5</text>
<text x="446.33" y="243.9" font-size="12" text-anchor="middle" font-family="Liberation Sans, sans-serif" fill="#111" stroke="#111" stroke-width="0.22" >10</text>
<text x="545" y="243.9" font-size="12" text-anchor="middle" font-family="Liberation Sans, sans-serif" fill="#111" stroke="#111" stroke-width="0.22" >20</text>
<text x="693" y="243.9" font-size="12" text-anchor="middle" font-family="Liberation Sans, sans-serif" fill="#111" stroke="#111" stroke-width="0.22" >35</text>
<text x="393" y="204.6" font-size="12" text-anchor="end" font-family="Liberation Sans, sans-serif" fill="#111" stroke="#111" stroke-width="0.22" >0</text>
<text x="393" y="142.1" font-size="12" text-anchor="end" font-family="Liberation Sans, sans-serif" fill="#111" stroke="#111" stroke-width="0.22" >1</text>
<text x="393" y="79.6" font-size="12" text-anchor="end" font-family="Liberation Sans, sans-serif" fill="#111" stroke="#111" stroke-width="0.22" >2</text>
<text x="545" y="257" font-size="11.5" text-anchor="middle" textLength="100.3" lengthAdjust="spacingAndGlyphs" font-family="Liberation Sans, sans-serif" fill="#111" stroke="#111" stroke-width="0.22">Wavelength [<tspan font-style="italic">μ</tspan>m]</text>
<text x="0" y="0" font-size="11" text-anchor="middle" textLength="46" lengthAdjust="spacingAndGlyphs" transform="translate(380.3 121.5) rotate(-90)" font-family="Liberation Sans, sans-serif" fill="#111" stroke="#111" stroke-width="0.22">Flux [Jy]</text>
<rect x="233.8" y="15.8" width="85" height="21.5" rx="1.5" fill="#fff" fill-opacity="0.8" stroke="#d0d0d0" stroke-width="0.7"/>
<line x1="235.5" y1="21.1" x2="249" y2="21.1" stroke="#f7853a" stroke-width="1.1"/>
<line x1="235.5" y1="31.1" x2="249" y2="31.1" stroke="#777" stroke-width="0.8"/>
<line x1="242.3" y1="28.3" x2="242.3" y2="34" stroke="#222" stroke-width="0.7"/>
<text x="254.5" y="23.6" font-size="6.4" text-anchor="start" textLength="28.8" lengthAdjust="spacingAndGlyphs" font-family="Liberation Sans, sans-serif" fill="#1a1a1a" >Model Fit</text>
<text x="254.5" y="33.6" font-size="6.4" text-anchor="start" textLength="61.2" lengthAdjust="spacingAndGlyphs" font-family="Liberation Sans, sans-serif" fill="#1a1a1a" >Optimal Extraction</text>
<rect x="554.4" y="15.2" width="134.6" height="61.1" rx="1.5" fill="#fff" fill-opacity="0.8" stroke="#d0d0d0" stroke-width="0.7"/>
<line x1="557" y1="21" x2="570.4" y2="21" stroke="#4b70e2" stroke-width="1" stroke-dasharray="2.3 1.2"/>
<line x1="557" y1="30.8" x2="570.4" y2="30.8" stroke="#ff2a2a" stroke-width="1.2" stroke-dasharray="2 1.4"/>
<line x1="557" y1="40.6" x2="570.4" y2="40.6" stroke="#4b70e2" stroke-width="1" stroke-dasharray="4.5 1 1 1"/>
<line x1="557" y1="50.4" x2="570.4" y2="50.4" stroke="#ff2a2a" stroke-width="1.1" stroke-dasharray="4.5 1 1 1"/>
<line x1="557" y1="60.2" x2="570.4" y2="60.2" stroke="#ff5252" stroke-width="1"/>
<line x1="557" y1="70" x2="570.4" y2="70" stroke="#777" stroke-width="0.8"/>
<line x1="563.4" y1="67.3" x2="563.4" y2="73" stroke="#222" stroke-width="0.7"/>
<text x="575.2" y="24.2" font-size="6.4" text-anchor="start" textLength="72.7" lengthAdjust="spacingAndGlyphs" font-family="Liberation Sans, sans-serif" fill="#1a1a1a" >Cool forsterite (100 K)</text>
<text x="575.2" y="34" font-size="6.4" text-anchor="start" textLength="77.2" lengthAdjust="spacingAndGlyphs" font-family="Liberation Sans, sans-serif" fill="#1a1a1a" >Warm forsterite (300 K)</text>
<text x="575.2" y="43.8" font-size="6.4" text-anchor="start" textLength="71.8" lengthAdjust="spacingAndGlyphs" font-family="Liberation Sans, sans-serif" fill="#1a1a1a" >Cool Enstatite (100 K)</text>
<text x="575.2" y="53.6" font-size="6.4" text-anchor="start" textLength="76.9" lengthAdjust="spacingAndGlyphs" font-family="Liberation Sans, sans-serif" fill="#1a1a1a" >Warm Enstatite (300 K)</text>
<text x="575.2" y="63.4" font-size="6.4" text-anchor="start" textLength="111.5" lengthAdjust="spacingAndGlyphs" font-family="Liberation Sans, sans-serif" fill="#1a1a1a" >Warm Small Amorphous Pyroxene</text>
<text x="575.2" y="73.2" font-size="6.4" text-anchor="start" textLength="61.4" lengthAdjust="spacingAndGlyphs" font-family="Liberation Sans, sans-serif" fill="#1a1a1a" >Optimal Extraction</text>
</svg>
</body></html>
